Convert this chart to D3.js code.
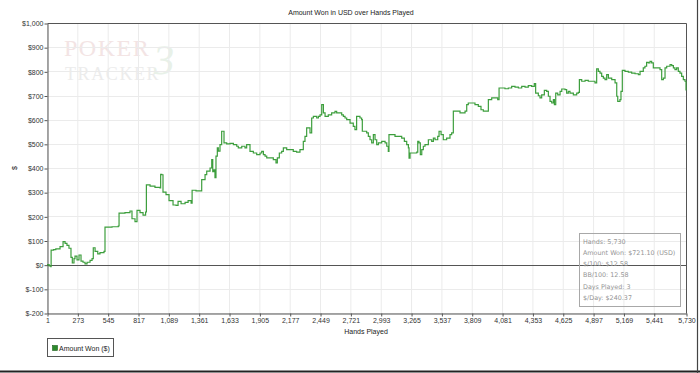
<!DOCTYPE html>
<html>
<head>
<meta charset="utf-8">
<script src="https://cdn.jsdelivr.net/npm/d3@7.9.0/dist/d3.min.js"></script>
<style>
  html, body { margin: 0; padding: 0; background: #fff; }
  svg { display: block; font-family: "Liberation Sans", Arial, sans-serif; }
</style>
</head>
<body>
<svg id="chart" width="700" height="373"></svg>
<script>
// Cumulative amount won (hand number, $)
const hands = [
  1, 20, 35, 38, 60, 80, 100, 118, 145, 163, 180, 198, 216, 228, 243, 252, 270, 288, 306, 324,
  342, 360, 387, 405, 416, 432, 456, 476, 512, 521, 584, 640, 647, 700, 745, 763, 790, 808, 835, 862,
  885, 892, 925, 969, 1014, 1020, 1030, 1041, 1068, 1095, 1131, 1158, 1176, 1203, 1239, 1266, 1293, 1302, 1337, 1373,
  1388, 1418, 1433, 1463, 1478, 1487, 1498, 1507, 1516, 1528, 1537, 1552, 1567, 1582, 1588, 1612, 1642, 1672, 1702, 1716,
  1747, 1776, 1791, 1806, 1821, 1851, 1881, 1911, 1926, 1941, 1956, 1971, 2000, 2030, 2054, 2066, 2084, 2105, 2120, 2150,
  2180, 2209, 2239, 2269, 2284, 2299, 2314, 2329, 2344, 2359, 2374, 2389, 2419, 2434, 2449, 2464, 2479, 2494, 2523, 2553,
  2583, 2598, 2628, 2643, 2658, 2673, 2688, 2718, 2747, 2762, 2777, 2792, 2807, 2822, 2828, 2852, 2867, 2882, 2897, 2912,
  2927, 2942, 2957, 2972, 3002, 3032, 3047, 3061, 3067, 3091, 3121, 3151, 3181, 3205, 3226, 3241, 3247, 3256, 3286, 3316,
  3325, 3336, 3348, 3361, 3375, 3390, 3405, 3420, 3450, 3465, 3480, 3504, 3516, 3534, 3554, 3584, 3614, 3629, 3644, 3674,
  3704, 3734, 3749, 3764, 3778, 3808, 3838, 3868, 3892, 3913, 3943, 3958, 3988, 4018, 4042, 4054, 4078, 4107, 4137, 4167,
  4197, 4227, 4257, 4287, 4316, 4346, 4370, 4382, 4406, 4421, 4436, 4460, 4481, 4496, 4511, 4526, 4541, 4550, 4562, 4580,
  4601, 4616, 4645, 4660, 4675, 4690, 4720, 4750, 4765, 4774, 4795, 4825, 4854, 4884, 4914, 4929, 4944, 4959, 4974, 4989,
  5004, 5019, 5034, 5064, 5094, 5109, 5118, 5138, 5147, 5159, 5183, 5213, 5243, 5273, 5303, 5318, 5333, 5347, 5362, 5377,
  5392, 5407, 5422, 5437, 5467, 5497, 5512, 5527, 5542, 5557, 5587, 5602, 5617, 5631, 5646, 5661, 5676, 5691, 5706, 5721,
  5730
];
const amountWon = [
  0, -5, -8, 60, 62, 65, 65, 75, 95, 88, 80, 68, 30, 7, 25, 35, 20, 40, 15, 10,
  3, 10, 18, 25, 70, 55, 45, 50, 55, 155, 157, 160, 213, 215, 222, 190, 178, 225, 215, 205,
  218, 330, 325, 320, 318, 374, 372, 300, 290, 265, 247, 245, 262, 252, 258, 265, 255, 308, 305, 305,
  352, 373, 387, 400, 435, 385, 392, 360, 449, 483, 470, 497, 552, 552, 504, 500, 502, 497, 490, 483,
  490, 483, 497, 497, 469, 462, 455, 462, 469, 455, 449, 442, 442, 435, 421, 442, 462, 469, 483, 476,
  476, 469, 466, 476, 476, 510, 531, 566, 566, 545, 607, 614, 607, 614, 620, 662, 628, 614, 620, 628,
  634, 628, 628, 620, 614, 607, 600, 586, 572, 559, 614, 614, 607, 600, 552, 552, 545, 531, 517, 504,
  538, 517, 497, 504, 510, 504, 490, 469, 538, 538, 531, 531, 524, 510, 497, 483, 441, 462, 462, 466,
  510, 504, 455, 476, 490, 497, 497, 517, 510, 524, 517, 531, 552, 538, 517, 524, 538, 545, 635, 635,
  628, 628, 635, 662, 669, 669, 662, 655, 641, 635, 635, 683, 690, 690, 683, 731, 731, 728, 731, 738,
  735, 731, 738, 735, 741, 738, 749, 710, 699, 690, 703, 721, 717, 697, 676, 669, 683, 662, 710, 703,
  717, 727, 724, 710, 717, 710, 703, 710, 713, 766, 759, 763, 759, 759, 752, 810, 800, 793, 779, 772,
  766, 786, 772, 766, 752, 697, 676, 683, 717, 804, 800, 797, 793, 790, 786, 800, 800, 814, 821, 837,
  835, 841, 835, 814, 814, 807, 766, 772, 814, 821, 828, 824, 814, 807, 814, 800, 793, 779, 766, 759,
  721.1
];

// Axis ticks
const xTicks = [1, 273, 545, 817, 1089, 1361, 1633, 1905, 2177, 2449, 2721, 2993, 3265, 3537,
  3809, 4081, 4353, 4625, 4897, 5169, 5441, 5730];
const yTicks = [-200, -100, 0, 100, 200, 300, 400, 500, 600, 700, 800, 900, 1000];

// Summary box lines
const infoLines = ["Hands: 5,730", "Amount Won: $721.10 (USD)", "$/100: $12.58",
  "BB/100: 12.58", "Days Played: 3", "$/Day: $240.37"];

const data = hands.map((h, i) => ({ hand: h, won: amountWon[i] }));

const svg = d3.select("#chart");
const plotLeft = 47, plotRight = 686, plotTop = 23, plotBottom = 313;

const x = d3.scaleLinear().domain([1, 5730]).range([plotLeft, plotRight]);
const y = d3.scaleLinear().domain([-200, 1000]).range([plotBottom, plotTop]);

const fmt = d3.format(",");
const money = d => d < 0 ? "$-" + fmt(-d) : "$" + fmt(d);

// Watermark logo
const logo = svg.append("g").style("font-family", "'Liberation Serif', 'DejaVu Serif', serif");
logo.append("text").attr("x", 64).attr("y", 56).attr("font-size", 24)
  .attr("letter-spacing", 1.5).attr("fill", "#f3e4e4").text("POKER");
logo.append("text").attr("x", 65).attr("y", 80).attr("font-size", 18)
  .attr("letter-spacing", 1.6).attr("fill", "#ececec").text("TRACKER");
logo.append("text").attr("x", 152).attr("y", 74).attr("font-size", 42)
  .attr("transform", "skewX(-8)").attr("dx", 10)
  .attr("fill", "#e8f1e8").text("3");

// Gridlines
svg.append("g")
  .selectAll("line")
  .data(xTicks)
  .join("line")
  .attr("x1", d => x(d) + 0.5).attr("x2", d => x(d) + 0.5)
  .attr("y1", plotTop).attr("y2", plotBottom)
  .attr("stroke", "#ebebeb");

svg.append("g")
  .selectAll("line")
  .data(yTicks)
  .join("line")
  .attr("x1", plotLeft).attr("x2", plotRight)
  .attr("y1", d => Math.round(y(d)) + 0.5).attr("y2", d => Math.round(y(d)) + 0.5)
  .attr("stroke", "#ebebeb");

// Axes
const xAxis = svg.append("g")
  .attr("transform", `translate(0.5,${plotBottom + 0.5})`)
  .call(d3.axisBottom(x).tickValues(xTicks).tickFormat(fmt).tickSize(3).tickPadding(2).tickSizeOuter(0));
const yAxis = svg.append("g")
  .attr("transform", `translate(${plotLeft + 0.5},0.5)`)
  .call(d3.axisLeft(y).tickValues(yTicks).tickFormat(money).tickSize(3).tickPadding(1).tickSizeOuter(0));

[xAxis, yAxis].forEach(a => {
  a.attr("font-family", null).attr("font-size", null);
  a.select(".domain").attr("stroke", "#555");
  a.selectAll(".tick line").attr("stroke", "#555");
  a.selectAll(".tick text").style("font-size", "7px").attr("fill", "#333");
});

// Plot frame (top and right)
svg.append("path")
  .attr("d", `M${plotLeft + 0.5},${plotTop + 0.5}H${plotRight + 0.5}V${plotBottom + 0.5}`)
  .attr("fill", "none").attr("stroke", "#555");

// Zero line
svg.append("line")
  .attr("x1", plotLeft).attr("x2", plotRight)
  .attr("y1", Math.round(y(0)) + 0.5).attr("y2", Math.round(y(0)) + 0.5)
  .attr("stroke", "#555");

// Amount won line (stepped, like a running bankroll)
const line = d3.line().curve(d3.curveStepAfter).x(d => x(d.hand)).y(d => y(d.won));
svg.append("path")
  .datum(data)
  .attr("d", line)
  .attr("fill", "none")
  .attr("stroke", "#3d9e3d")
  .attr("stroke-width", 1.2);

// Titles
svg.append("text").attr("x", 351).attr("y", 15).attr("text-anchor", "middle")
  .attr("font-size", 7).attr("fill", "#222").text("Amount Won in USD over Hands Played");
svg.append("text").attr("x", 366).attr("y", 334).attr("text-anchor", "middle")
  .attr("font-size", 7).attr("fill", "#222").text("Hands Played");
svg.append("text").attr("transform", "translate(17,168) rotate(-90)").attr("text-anchor", "middle")
  .attr("font-size", 7).attr("fill", "#222").text("$");

// Summary box
const info = svg.append("g").style("font-family", "'DejaVu Sans', sans-serif");
info.append("rect").attr("x", 579.5).attr("y", 233.5).attr("width", 101).attr("height", 73)
  .attr("fill", "none").attr("stroke", "#a8a8a8");
info.selectAll("text")
  .data(infoLines)
  .join("text")
  .attr("x", 583)
  .attr("y", (d, i) => 243.5 + i * 11.3)
  .attr("font-size", 6.4)
  .attr("fill", "#959595")
  .text(d => d);

// Legend
const legend = svg.append("g");
legend.append("rect").attr("x", 47.5).attr("y", 338.5).attr("width", 66).attr("height", 18)
  .attr("fill", "#fff").attr("stroke", "#555");
legend.append("rect").attr("x", 52.5).attr("y", 345.5).attr("width", 5).attr("height", 5)
  .attr("fill", "#2b8a2b").attr("stroke", "#1f5f1f").attr("stroke-width", 0.6);
legend.append("text").attr("x", 59).attr("y", 350.5).attr("font-size", 7).attr("fill", "#222")
  .text("Amount Won ($)");

// Outer frame edges
svg.append("line").attr("x1", 0).attr("x2", 700).attr("y1", 371.5).attr("y2", 371.5)
  .attr("stroke", "#222").attr("stroke-width", 2);
svg.append("line").attr("x1", 697.5).attr("x2", 697.5).attr("y1", 0).attr("y2", 373)
  .attr("stroke", "#444").attr("stroke-width", 1.2);
</script>
</body>
</html>
